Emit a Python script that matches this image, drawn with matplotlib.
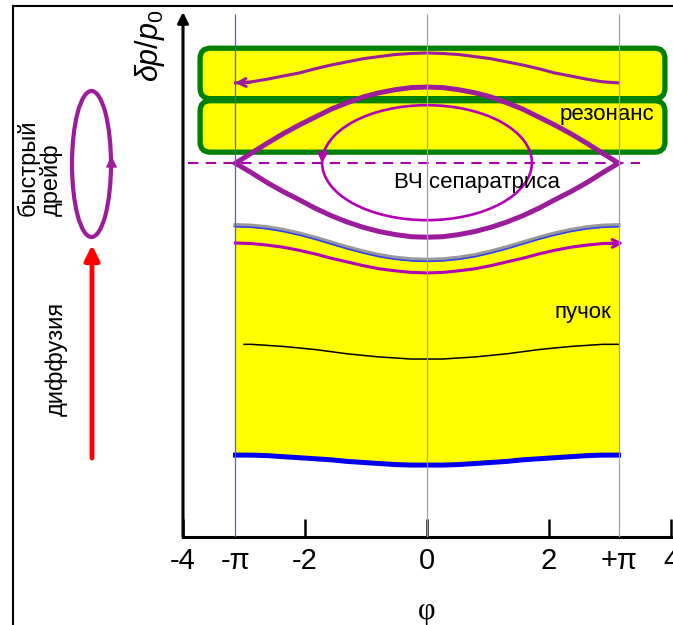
import matplotlib
matplotlib.use("Agg")
import matplotlib.pyplot as plt
from matplotlib.patches import FancyBboxPatch, Ellipse, Polygon

# the picture is symmetric about phi = 0, so the right half is mirrored
phi_half = [-3.14, -2.88, -2.62, -2.36, -2.09, -1.83, -1.57, -1.31, -1.05, -0.79, -0.52, -0.26, 0.0]

# RF separatrix, upper and lower branch
sep_upper_half = [7.12, 7.31, 7.50, 7.68, 7.85, 8.00, 8.15, 8.27, 8.38, 8.46, 8.52, 8.56, 8.57]
sep_lower_half = [7.12, 6.94, 6.75, 6.58, 6.42, 6.26, 6.12, 6.00, 5.90, 5.82, 5.76, 5.72, 5.71]
sep_level = 7.12

# orbit running inside the resonance band
orbit_top_half = [8.65, 8.67, 8.72, 8.78, 8.84, 8.92, 8.99, 9.05, 9.11, 9.15, 9.19, 9.21, 9.22]

# beam: upper edge, orbit just below it, core line, lower edge
beam_edge_half = [5.94, 5.93, 5.90, 5.85, 5.78, 5.70, 5.61, 5.52, 5.44, 5.37, 5.32, 5.29, 5.28]
beam_orbit_half = [5.60, 5.59, 5.56, 5.52, 5.46, 5.39, 5.31, 5.24, 5.17, 5.11, 5.07, 5.04, 5.03]
beam_core_half = [3.67, 3.67, 3.65, 3.63, 3.60, 3.57, 3.53, 3.49, 3.46, 3.43, 3.41, 3.39, 3.39]
beam_bottom_half = [1.56, 1.56, 1.55, 1.53, 1.51, 1.49, 1.47, 1.44, 1.42, 1.40, 1.38, 1.37, 1.37]
core_start = -3.0   # the core line starts a bit right of -pi

# small orbit inside the bucket: centre and half sizes
inner_center = (0.0, 7.13)
inner_half = (1.72, 1.095)

# resonance band, drawn as two stacked boxes
res_x = [-3.72, 3.90]
res_upper = [8.35, 9.31]
res_lower = [7.33, 8.31]

phi_marks = [-3.1416, 0.0, 3.1416]
major_ticks = [-4, -2, 0, 2, 4]
pi_ticks = [-3.1416, 3.1416]
pi_labels = ["-π", "+π"]


def mirror_x(half):
    return half[:-1] + [-v for v in half[::-1]]


def mirror_y(half):
    return half[:-1] + half[::-1]


phi = mirror_x(phi_half)
phi_core = [core_start] + phi[1:]
sep_upper = mirror_y(sep_upper_half)
sep_lower = mirror_y(sep_lower_half)
orbit_top = mirror_y(orbit_top_half)
beam_edge = mirror_y(beam_edge_half)
beam_orbit = mirror_y(beam_orbit_half)
beam_core = mirror_y(beam_core_half)
beam_bottom = mirror_y(beam_bottom_half)

plt.rcParams["font.family"] = ["Liberation Sans", "DejaVu Sans"]
plt.rcParams["mathtext.fontset"] = "custom"
plt.rcParams["mathtext.it"] = "Liberation Sans:italic"
plt.rcParams["mathtext.rm"] = "Liberation Sans"

W, H = 673, 625
fig = plt.figure(figsize=(W / 100, H / 100), dpi=100)

# overlay in pixel units for the frame and the left-hand sketch
ov = fig.add_axes([0, 0, 1, 1], zorder=-1)
ov.set_xlim(0, W)
ov.set_ylim(H, 0)
ov.axis("off")
ov.plot([13, 13], [6, H], color="black", lw=1.5)
ov.plot([13, W], [6, 6], color="black", lw=1.5)
ov.add_patch(Ellipse((91.5, 164), 39, 146, fill=False, ec="#9c1c9c", lw=3))
ov.annotate("", xy=(111.5, 156), xytext=(111.5, 171),
            arrowprops=dict(arrowstyle="-|>", color="#9c1c9c", lw=1,
                            mutation_scale=17, shrinkA=0, shrinkB=0))
ov.annotate("", xy=(92, 245), xytext=(92, 458),
            arrowprops=dict(arrowstyle="-|>", color="red", lw=3.5,
                            mutation_scale=22, shrinkA=0, shrinkB=0))
ov.text(40, 168, "быстрый\nдрейф", rotation=90, ha="center", va="center",
        multialignment="left", fontsize=17, linespacing=1.0)
ov.text(56, 359, "диффузия", rotation=90, ha="center", va="center", fontsize=17)

ax = fig.add_axes([183 / W, 88 / H, 488 / W, 525 / H])
ax.patch.set_alpha(0)
ax.set_xlim(-4, 4)
ax.set_ylim(0, 10)

# resonance band
for lo, hi in (res_upper, res_lower):
    ax.add_patch(FancyBboxPatch((res_x[0], lo), res_x[1] - res_x[0], hi - lo,
                                boxstyle="round,pad=0,rounding_size=0.17",
                                mutation_aspect=61 / 52.5,
                                fc="#ffff00", ec="#008000", lw=3.8, zorder=1))

# beam body
ax.fill_between(phi, beam_bottom, beam_edge, color="#ffff00", lw=0, zorder=1)
ax.plot(phi, beam_edge, color="#999999", lw=3, zorder=3)
ax.plot(phi, [v - 0.03 for v in beam_edge], color="#3344ee", lw=1.2, zorder=3)
ax.plot(phi, beam_bottom, color="#0000ee", lw=3.6, zorder=3)
ax.plot(phi_core, beam_core, color="black", lw=1.1, zorder=3)

purple = "#9c1c9c"
magenta = "#b400b4"

ax.plot(phi, beam_orbit, color=magenta, lw=2.2, zorder=4)
ax.annotate("", xy=(3.22, beam_orbit[-1]), xytext=(3.0, beam_orbit[-1] - 0.01),
            arrowprops=dict(arrowstyle="->", color=magenta, lw=2.2,
                            mutation_scale=14, shrinkA=0, shrinkB=0), zorder=4)

ax.plot(phi, orbit_top, color=purple, lw=2.2, zorder=4)
ax.annotate("", xy=(-3.15, orbit_top[0]), xytext=(-2.9, orbit_top[0] + 0.01),
            arrowprops=dict(arrowstyle="->", color=purple, lw=2.2,
                            mutation_scale=14, shrinkA=0, shrinkB=0), zorder=4)

# separatrix
ax.plot([-3.92, 3.49], [sep_level, sep_level], color="#aa00aa", lw=1.5,
        ls=(0, (5, 3.5)), zorder=2)
ax.add_patch(Polygon(list(zip(phi + phi[::-1], sep_upper + sep_lower[::-1])),
                     closed=True, fill=False, ec=purple, lw=3.6,
                     joinstyle="miter", zorder=5))
ax.add_patch(Ellipse(inner_center, 2 * inner_half[0], 2 * inner_half[1],
                     fill=False, ec=magenta, lw=1.9, zorder=5))
ax.annotate("", xy=(-1.72, 7.12), xytext=(-1.71, 7.35),
            arrowprops=dict(arrowstyle="->", color=magenta, lw=1.9,
                            mutation_scale=14, shrinkA=0, shrinkB=0), zorder=5)

# reference phases
ax.vlines(phi_marks[0], 0, 9.96, color="#5555ff", lw=0.9, zorder=10)
ax.vlines(phi_marks[1:], 0, 9.96, color="#a0a0a0", lw=0.9, zorder=10)

ax.text(2.95, 8.04, "резонанс", fontsize=16, ha="center", va="center", zorder=6)
ax.text(0.82, 6.76, "ВЧ сепаратриса", fontsize=16, ha="center", va="center", zorder=6)
ax.text(2.56, 4.27, "пучок", fontsize=16, ha="center", va="center", zorder=6)

# axes
for s in ("top", "right", "left"):
    ax.spines[s].set_visible(False)
ax.spines["bottom"].set_linewidth(2.2)
ax.set_yticks([])
ax.set_xticks(major_ticks)
ax.set_xticklabels([str(t) for t in major_ticks])
ax.set_xticks(pi_ticks, minor=True)
ax.set_xticklabels(pi_labels, minor=True)
ax.tick_params(axis="x", which="major", direction="in", length=13, width=1.8,
               labelsize=21, pad=7)
ax.tick_params(axis="x", which="minor", length=0, labelsize=21, pad=7)
ax.annotate("", xy=(-4, 10), xytext=(-4, 0), annotation_clip=False,
            arrowprops=dict(arrowstyle="-|>", color="black", lw=2.2,
                            mutation_scale=16, shrinkA=0, shrinkB=0))

ax.set_xlabel("φ", fontsize=22, family=["Liberation Serif", "DejaVu Serif"])
ax.xaxis.set_label_coords(0.5, -0.115)
ax.set_ylabel(r"$\delta p/p_0$", fontsize=22, rotation=90, va="center")
ax.yaxis.set_label_coords(-0.068, 0.935)

fig.savefig("out.png", dpi=100)
